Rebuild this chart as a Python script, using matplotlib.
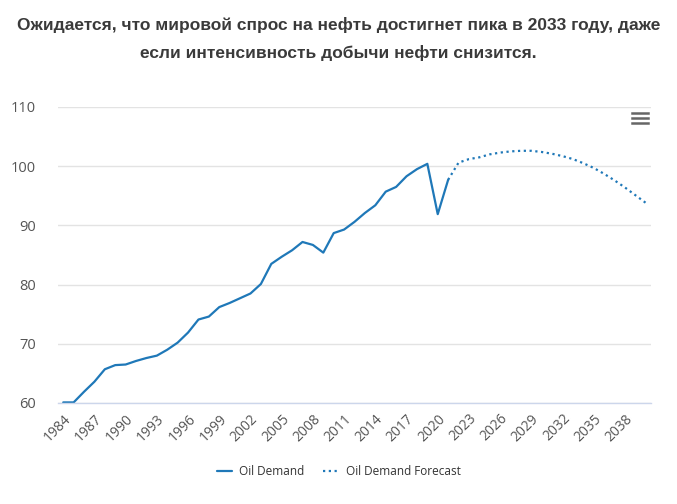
import matplotlib.pyplot as plt
from matplotlib.lines import Line2D

# Oil demand, million barrels per day
years = list(range(1984, 2041))
demand_years = list(range(1984, 2022))
demand = [60.1, 60.1, 61.9, 63.6, 65.7, 66.4, 66.5, 67.1, 67.6, 68.0,
          69.0, 70.2, 71.9, 74.1, 74.6, 76.2, 76.9, 77.7, 78.5, 80.1,
          83.5, 84.7, 85.8, 87.2, 86.7, 85.4, 88.7, 89.3, 90.6, 92.1,
          93.4, 95.7, 96.5, 98.3, 99.5, 100.4, 91.9, 97.7]
forecast_years = list(range(2021, 2041))
forecast = [97.7, 100.6, 101.2, 101.5, 102.0, 102.3, 102.5, 102.6, 102.6, 102.4,
            102.1, 101.7, 101.2, 100.5, 99.7, 98.7, 97.6, 96.4, 95.1, 93.8]
yticks = [60, 70, 80, 90, 100, 110]

title = ('Ожидается, что мировой спрос на нефть достигнет пика в 2033 году, даже\n'
         'если интенсивность добычи нефти снизится.')

blue = '#1f78b8'

fig = plt.figure(figsize=(6.77, 5.04), dpi=100)
ax = fig.add_axes([0.0857, 0.2004, 0.8759, 0.5873])

ax.plot([years.index(y) for y in demand_years], demand, color=blue, lw=1.6,
        solid_capstyle='round', label='Oil Demand')
ax.plot([years.index(y) for y in forecast_years], forecast, color=blue, lw=1.6,
        linestyle=(0, (1, 1.6)), label='Oil Demand Forecast')

ax.set_xlim(-0.5, len(years) - 0.5)
ax.set_ylim(60, 110)
ax.set_yticks(yticks)
ax.set_yticklabels([str(t) for t in yticks], fontsize=10.5, color='#555555',
                   family='Open Sans')
tick_idx = list(range(0, len(years), 3))
ax.set_xticks(tick_idx)
ax.set_xticklabels([str(years[i]) for i in tick_idx], rotation=45, ha='right',
                   rotation_mode='anchor', fontsize=10, color='#555555',
                   family='Open Sans')
ax.tick_params(axis='both', length=0)
ax.tick_params(axis='y', pad=16)
ax.tick_params(axis='x', pad=6)

ax.grid(axis='y', color='#e3e3e3', lw=1)
ax.set_axisbelow(True)
for s in ['top', 'right', 'left']:
    ax.spines[s].set_visible(False)
ax.spines['bottom'].set_color('#ccd6eb')
ax.spines['bottom'].set_linewidth(1)

leg = fig.legend(loc='center', bbox_to_anchor=(0.5, 0.065), ncol=2, frameon=False,
                 handlelength=1.3, handletextpad=0.6, columnspacing=1.6,
                 prop={'family': 'Open Sans', 'size': 8.5})
for t in leg.get_texts():
    t.set_color('#333333')

fig.text(0.5, 0.922, title, ha='center', va='center', fontsize=12.5,
         fontweight='bold', color='#3a3a3a', family='Liberation Sans',
         linespacing=1.9)

# menu icon
for yy in [0.776, 0.766, 0.756]:
    fig.add_artist(Line2D([0.934, 0.957], [yy, yy], color='#666666', lw=1.8))

fig.savefig('out.png', dpi=100)
